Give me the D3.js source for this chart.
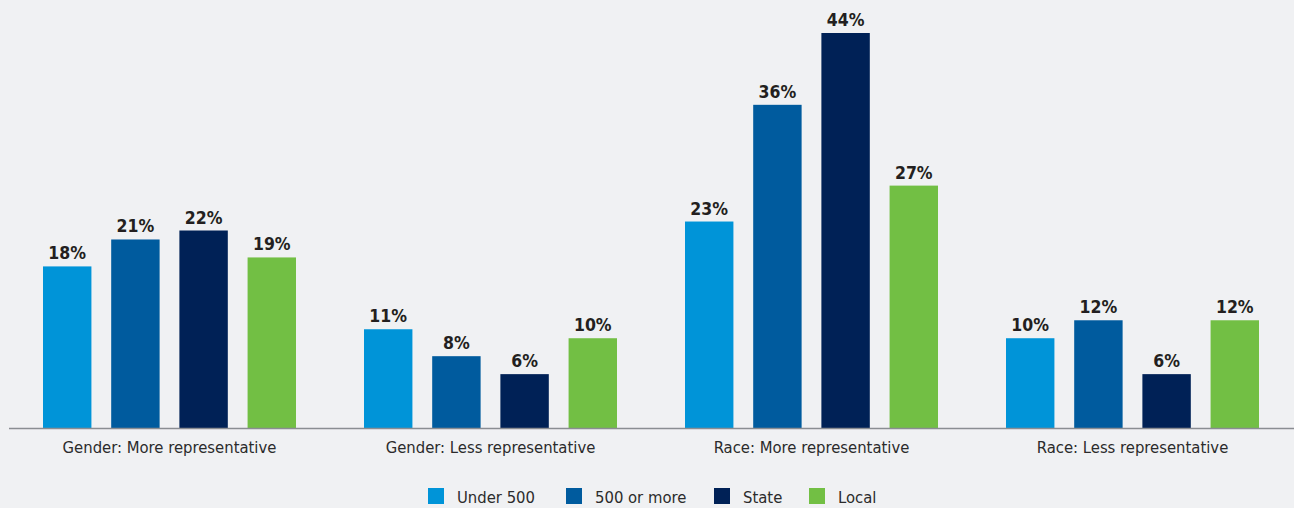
<!DOCTYPE html>
<html>
<head>
<meta charset="utf-8">
<script src="https://cdn.jsdelivr.net/npm/d3@7"></script>
<style>
	html, body { margin: 0; padding: 0; background: #f0f1f3; }
	svg { display: block; font-family: "DejaVu Sans Condensed", "Liberation Sans Narrow", sans-serif; font-stretch: condensed; }
</style>
</head>
<body>
<svg id="chart"></svg>
<script>
const categories = [
	'Gender: More representative',
	'Gender: Less representative',
	'Race: More representative',
	'Race: Less representative'
];
const seriesNames = ['Under 500', '500 or more', 'State', 'Local'];
const under500 = [18, 11, 23, 10];
const fiveHundredPlus = [21, 8, 36, 12];
const state = [22, 6, 44, 6];
const local = [19, 10, 27, 12];
const colors = ['#0094d8', '#005b9e', '#002156', '#72bf44'];

const width = 1294,
	height = 508,
	baseY = 428;

const svg = d3.select('#chart').attr('width', width).attr('height', height);

const seriesValues = [under500, fiveHundredPlus, state, local];
const rows = categories.map((c, i) => ({
	cat: c,
	vals: seriesNames.map((s, j) => ({ key: s, value: seriesValues[j][i], idx: j }))
}));

const x0 = d3.scaleBand().domain(categories).range([9, 1293]).paddingInner(0).paddingOuter(0);
const x1 = d3.scaleBand().domain(seriesNames).range([34, x0.bandwidth() - 34]).paddingInner(0.29).paddingOuter(0);
const y = d3.scaleLinear().domain([0, 44]).range([baseY, 33]);

const group = svg
	.selectAll('g.grp')
	.data(rows)
	.join('g')
	.attr('class', 'grp')
	.attr('transform', d => `translate(${x0(d.cat)},0)`);

group
	.selectAll('rect')
	.data(d => d.vals)
	.join('rect')
	.attr('x', d => x1(d.key))
	.attr('y', d => y(d.value))
	.attr('width', x1.bandwidth())
	.attr('height', d => baseY - y(d.value))
	.attr('fill', d => colors[d.idx]);

group
	.selectAll('text.val')
	.data(d => d.vals)
	.join('text')
	.attr('class', 'val')
	.attr('x', d => x1(d.key) + x1.bandwidth() / 2)
	.attr('y', d => y(d.value) - 7)
	.attr('text-anchor', 'middle')
	.attr('font-size', 17.5)
	.attr('font-weight', 'bold')
	.attr('fill', '#231f20')
	.text(d => d.value + '%');

// x axis
const xAxis = svg
	.append('g')
	.attr('transform', `translate(0,${baseY})`)
	.call(d3.axisBottom(x0).tickSize(0).tickPadding(13));
xAxis.select('.domain').attr('stroke', '#8a8d92').attr('stroke-width', 1.5).attr('d', 'M9,0.5H1294');
xAxis
	.selectAll('text')
	.attr('font-size', 16.5)
	.attr('font-family', '"DejaVu Sans Condensed", sans-serif')
	.attr('fill', '#2b2b2b');

// legend
const legendX = [428, 566, 714, 809];
const legend = svg
	.selectAll('g.leg')
	.data(seriesNames)
	.join('g')
	.attr('class', 'leg')
	.attr('transform', (d, i) => `translate(${legendX[i]},488)`);
legend.append('rect').attr('width', 16).attr('height', 16).attr('fill', (d, i) => colors[i]);
legend
	.append('text')
	.attr('x', 29)
	.attr('y', 15)
	.attr('font-size', 16.5)
	.attr('fill', '#2b2b2b')
	.text(d => d);
</script>
</body>
</html>
